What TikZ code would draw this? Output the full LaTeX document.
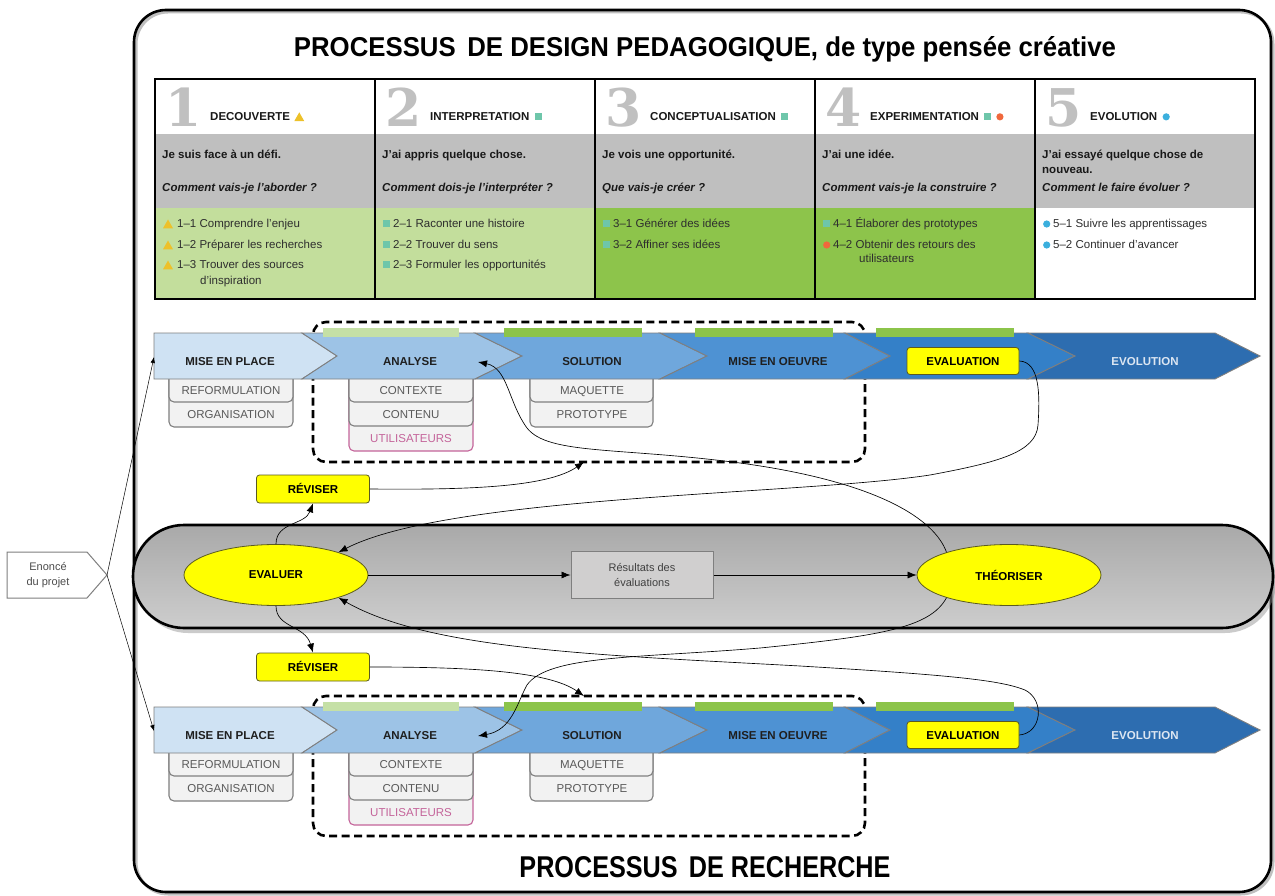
\documentclass[tikz,border=0pt]{standalone}
\usepackage{fontspec}
\usepackage{graphicx}
\setmainfont{Liberation Sans}
\newfontfamily\digitfont{DejaVu Serif}
\usetikzlibrary{arrows.meta,shapes.geometric}

\definecolor{chA}{HTML}{CFE2F3}
\definecolor{chB}{HTML}{9DC3E6}
\definecolor{chC}{HTML}{6FA7DC}
\definecolor{chD}{HTML}{4E92D3}
\definecolor{chE}{HTML}{3480C8}
\definecolor{chF}{HTML}{2D6DB0}
\definecolor{chline}{HTML}{7F7F7F}
\definecolor{lgrn}{HTML}{C3DE9C}
\definecolor{grn}{HTML}{8DC44B}
\definecolor{bargrn}{HTML}{8CC44A}
\definecolor{barlgrn}{HTML}{C5E0A6}
\definecolor{tgray}{HTML}{BFBFBF}
\definecolor{numgray}{HTML}{C0C0C0}
\definecolor{symyel}{HTML}{EDC12A}
\definecolor{symteal}{HTML}{6EC6AA}
\definecolor{symred}{HTML}{F0683C}
\definecolor{symblue}{HTML}{3BAFDD}
\definecolor{subfill}{HTML}{F2F2F2}
\definecolor{subtext}{HTML}{595959}
\definecolor{pinkc}{HTML}{C4649A}
\definecolor{evotext}{HTML}{DCE6F2}
\definecolor{yel}{HTML}{FFFF00}
\definecolor{yelline}{HTML}{5A5A20}
\definecolor{resfill}{HTML}{D0CFCF}
\definecolor{pillTop}{HTML}{A9A9A9}
\definecolor{pillMid}{HTML}{D4D4D4}
\definecolor{pillBot}{HTML}{CDCDCD}

\tikzset{
 chev/.style={draw=chline, line width=0.9pt, line join=miter},
 chlab/.style={font=\fontsize{11.5}{13}\selectfont\bfseries, text=black!88, inner sep=0, text height=8.3pt, text depth=0pt},
 subbox/.style={fill=subfill, draw=chline, line width=1.1pt, rounded corners=5pt},
 sublab/.style={font=\fontsize{11.5}{13}\selectfont, text=subtext, inner sep=0, text height=8.3pt, text depth=0pt},
 dashbox/.style={draw=black, line width=2.6pt, dash pattern=on 8pt off 4.5pt, rounded corners=13pt},
 yelbox/.style={fill=yel, draw=yelline, line width=0.8pt, rounded corners=3pt, font=\fontsize{11.5}{13}\selectfont\bfseries, inner sep=0, text height=8.3pt, text depth=0pt},
 ell/.style={ellipse, draw=yelline, line width=0.8pt, fill=yel, minimum width=184pt, minimum height=61pt, inner sep=0, font=\fontsize{11.5}{13}\selectfont\bfseries},
 resbox/.style={draw=chline, fill=resfill, line width=1pt, minimum width=142pt, minimum height=47pt, align=center, font=\fontsize{11}{15}\selectfont, text=black!75, inner sep=0},
 hdr/.style={anchor=base west, font=\fontsize{11.5}{13}\selectfont\bfseries, text=black!90, inner sep=0, text height=8.3pt, text depth=0pt},
 bignum/.style={anchor=base west, font=\digitfont\fontsize{52}{52}\selectfont\bfseries, text=numgray, inner sep=0},
 qtxt/.style={anchor=base west, font=\fontsize{11.5}{13}\selectfont\bfseries, text=black!90, inner sep=0},
 qit/.style={anchor=base west, font=\fontsize{11.5}{13}\selectfont\bfseries\itshape, text=black!90, inner sep=0},
 itm/.style={anchor=base west, font=\fontsize{11.5}{13}\selectfont, text=black!82, inner sep=0},
 conn/.style={line width=0.65pt, -{Latex[length=9pt,width=7pt]}},
 enarr/.style={line width=0.5pt, -{Latex[length=6pt,width=4.5pt]}},
}

\newcommand\stri[1]{\fill[symyel, shift={(#1)}] (0,-4.3) -- (10,-4.3) -- (5,4.5) -- cycle;}
\newcommand\ssq[1]{\fill[symteal, shift={(#1)}] (0,-3.5) rectangle (7,3.5);}
\newcommand\sdot[2]{\fill[#2, shift={(#1)}] (3.7,0) circle (3.6);}

\newcommand\procrow[2]{%
\begin{scope}[yshift=#1]
\draw[dashbox] (313,-322) rectangle (865,-462);
\coordinate (#2dbtop) at (584,-322);
\coordinate (#2dbbot) at (584,-462);
\filldraw[subbox] (169,-370) rectangle (293,-427);
\filldraw[subbox] (169,-370) rectangle (293,-402);
\filldraw[subbox, draw=pinkc] (349,-370) rectangle (473,-451);
\filldraw[subbox] (349,-370) rectangle (473,-426);
\filldraw[subbox] (349,-370) rectangle (473,-402);
\filldraw[subbox] (530,-370) rectangle (653,-427);
\filldraw[subbox] (530,-370) rectangle (653,-402);
\filldraw[chev, fill=chA] (154,-333) -- (302,-333) -- (337,-356) -- (302,-379) -- (154,-379) -- cycle;
\filldraw[chev, fill=chB] (302,-333) -- (475,-333) -- (522,-356) -- (475,-379) -- (302,-379) -- (337,-356) -- cycle;
\filldraw[chev, fill=chC] (475,-333) -- (660,-333) -- (707,-356) -- (660,-379) -- (475,-379) -- (522,-356) -- cycle;
\filldraw[chev, fill=chD] (660,-333) -- (845,-333) -- (890,-356) -- (845,-379) -- (660,-379) -- (707,-356) -- cycle;
\filldraw[chev, fill=chE] (845,-333) -- (1028,-333) -- (1075,-356) -- (1028,-379) -- (845,-379) -- (890,-356) -- cycle;
\filldraw[chev, fill=chF] (1028,-333) -- (1215,-333) -- (1260,-356) -- (1215,-379) -- (1028,-379) -- (1075,-356) -- cycle;
\fill[barlgrn] (323,-328) rectangle (459,-337);
\fill[bargrn] (504,-328) rectangle (642,-337);
\fill[bargrn] (695,-328) rectangle (833,-337);
\fill[bargrn] (876,-328) rectangle (1014,-337);
\node[chlab] (#2mep) at (230,-361) {MISE EN PLACE};
\node[chlab] (#2ana) at (410,-361) {ANALYSE};
\node[chlab] (#2sol) at (592,-361) {SOLUTION};
\node[chlab] (#2meo) at (778,-361) {MISE EN OEUVRE};
\node[yelbox, minimum width=112pt, minimum height=27pt] (#2eval) at (963,-361) {EVALUATION};
\node[chlab, text=evotext] (#2evo) at (1145,-361) {EVOLUTION};
\coordinate (#2mepL) at (154,-357);
\coordinate (#2anaR) at (478,-362);
\node[sublab] (#2ref) at (231,-390) {REFORMULATION};
\node[sublab] (#2org) at (231,-414) {ORGANISATION};
\node[sublab] (#2ctx) at (411,-390) {CONTEXTE};
\node[sublab] (#2cnt) at (411,-414) {CONTENU};
\node[sublab, text=pinkc] (#2usr) at (411,-438) {UTILISATEURS};
\node[sublab] (#2maq) at (592,-390) {MAQUETTE};
\node[sublab] (#2pro) at (592,-414) {PROTOTYPE};
\end{scope}}

\begin{document}
\begin{tikzpicture}[x=1pt,y=1pt]
\useasboundingbox (0,0) rectangle (1275,-896);
\fill[white] (0,0) rectangle (1275,-896);

% outer frame
\draw[black!25, line width=3pt, rounded corners=32pt] (136,-12) rectangle (1273,-894);
\draw[line width=2.6pt, rounded corners=32pt] (134,-10) rectangle (1271,-892);

% titles
\node[anchor=base, inner sep=0] (title) at (705,-57) {\resizebox{822pt}{20pt}{\bfseries PROCESSUS\hspace{0.45em}DE DESIGN PEDAGOGIQUE, de type pensée créative}};
\node[anchor=base, inner sep=0] (title2) at (705,-877) {\resizebox{371pt}{21pt}{\bfseries PROCESSUS\hspace{0.45em}DE RECHERCHE}};

% table backgrounds
\fill[white] (155,-79) rectangle (1255,-134);
\fill[tgray] (155,-134) rectangle (1255,-208);
\fill[lgrn] (155,-208) rectangle (595,-299);
\fill[grn] (595,-208) rectangle (1035,-299);
\fill[white] (1035,-208) rectangle (1255,-299);
\foreach \xx in {375,595,815,1035} \draw[line width=1.6pt] (\xx,-79) -- (\xx,-299);
\draw[line width=2pt] (155,-79) rectangle (1255,-299);

% column 1
\node[bignum] (n1) at (165,-127) {1};
\node[hdr] (h1) at (210,-121) {DECOUVERTE};
\coordinate (h1s) at ([xshift=4pt]h1.east);
\stri{h1s}
\node[qtxt] (q1) at (162,-159) {Je suis face à un défi.};
\node[qit] (i1) at (162,-192) {Comment vais-je l’aborder ?};
\stri{163,-224} \node[itm] (a11) at (177,-228) {1–1 Comprendre l'enjeu};
\stri{163,-245} \node[itm] (a12) at (177,-249) {1–2 Préparer les recherches};
\stri{163,-265} \node[itm] (a13) at (177,-269) {1–3 Trouver des sources};
\node[itm] (a13b) at (200,-284) {d'inspiration};

% column 2
\node[bignum] (n2) at (385,-127) {2};
\node[hdr] (h2) at (430,-121) {INTERPRETATION};
\coordinate (h2s) at ([xshift=5pt]h2.east);
\ssq{h2s}
\node[qtxt] (q2) at (382,-159) {J’ai appris quelque chose.};
\node[qit] (i2) at (382,-192) {Comment dois-je l’interpréter ?};
\ssq{383,-224} \node[itm] (a21) at (393,-228) {2–1 Raconter une histoire};
\ssq{383,-245} \node[itm] (a22) at (393,-249) {2–2 Trouver du sens};
\ssq{383,-265} \node[itm] (a23) at (393,-269) {2–3 Formuler les opportunités};

% column 3
\node[bignum] (n3) at (605,-127) {3};
\node[hdr] (h3) at (650,-121) {CONCEPTUALISATION};
\coordinate (h3s) at ([xshift=5pt]h3.east);
\ssq{h3s}
\node[qtxt] (q3) at (602,-159) {Je vois une opportunité.};
\node[qit] (i3) at (602,-192) {Que vais-je créer ?};
\ssq{603,-224} \node[itm] (a31) at (613,-228) {3–1 Générer des idées};
\ssq{603,-245} \node[itm] (a32) at (613,-249) {3–2 Affiner ses idées};

% column 4
\node[bignum] (n4) at (825,-127) {4};
\node[hdr] (h4) at (870,-121) {EXPERIMENTATION};
\coordinate (h4s) at ([xshift=5pt]h4.east);
\coordinate (h4c) at ([xshift=17pt]h4.east);
\ssq{h4s}
\sdot{h4c}{symred}
\node[qtxt] (q4) at (822,-159) {J’ai une idée.};
\node[qit] (i4) at (822,-192) {Comment vais-je la construire ?};
\ssq{823,-224} \node[itm] (a41) at (833,-228) {4–1 Élaborer des prototypes};
\sdot{823,-245}{symred} \node[itm] (a42) at (833,-249) {4–2 Obtenir des retours des};
\node[itm] (a42b) at (859,-263) {utilisateurs};

% column 5
\node[bignum] (n5) at (1045,-127) {5};
\node[hdr] (h5) at (1090,-121) {EVOLUTION};
\coordinate (h5s) at ([xshift=5pt]h5.east);
\sdot{h5s}{symblue}
\node[qtxt] (q5) at (1042,-159) {J’ai essayé quelque chose de};
\node[qtxt] (q5b) at (1042,-174) {nouveau.};
\node[qit] (i5) at (1042,-192) {Comment le faire évoluer ?};
\sdot{1043,-224}{symblue} \node[itm] (a51) at (1053,-228) {5–1 Suivre les apprentissages};
\sdot{1043,-245}{symblue} \node[itm] (a52) at (1053,-249) {5–2 Continuer d'avancer};

% process rows
\procrow{0pt}{T}
\procrow{-374pt}{B}

% middle band
\fill[black!45, opacity=0.45, rounded corners=51pt] (137,-530) rectangle (1276,-633);
\draw[line width=2.6pt, rounded corners=51pt, top color=pillTop, middle color=pillMid, bottom color=pillBot] (133,-525) rectangle (1273,-628);
\node[ell] (evaluer) at (276,-575) {EVALUER};
\node[ell] (theo) at (1009,-575) {THÉORISER};
\node[resbox] (res) at (642,-575) {Résultats des\\évaluations};
\draw[conn] (evaluer) -- (res);
\draw[conn] (res) -- (theo);

% reviser boxes
\node[yelbox, minimum width=113pt, minimum height=28pt] (revT) at (313,-489) {RÉVISER};
\node[yelbox, minimum width=113pt, minimum height=28pt] (revB) at (313,-667) {RÉVISER};

% enonce
\filldraw[fill=white, draw=chline, line width=1pt] (7,-552) -- (87,-552) -- (107,-575) -- (87,-598) -- (7,-598) -- cycle;
\node[font=\fontsize{11}{15}\selectfont, text=black!70, align=center, inner sep=0] (enonce) at (48,-575) {Enoncé\\du projet};
\coordinate (entip) at (107,-575);
\draw[enarr] (entip) -- (TmepL);
\draw[enarr] (entip) -- (BmepL);

% connectors
\draw[conn] (evaluer.north) .. controls (276,-522) and (305,-525) .. (revT.south);
\draw[conn] (evaluer.south) .. controls (276,-628) and (305,-625) .. (revB.north);
\draw[conn] (revT.east) .. controls (470,-490) and (548,-487) .. (Tdbbot);
\draw[conn] (revB.east) .. controls (470,-667) and (548,-671) .. (Bdbtop);
\draw[conn] (theo.160) .. controls (935,-520) and (880,-482) .. (740,-463)
  .. controls (620,-447) and (548,-455) .. (527,-428)
  .. controls (508,-402) and (508,-368) .. (TanaR);
\draw[conn] (theo.200) .. controls (930,-628) and (880,-636) .. (760,-648)
  .. controls (640,-658) and (548,-655) .. (527,-685)
  .. controls (517,-703) and (512,-730) .. (BanaR);
\draw[conn] (Teval.east) .. controls (1040,-362) and (1040,-395) .. (1038,-425)
  .. controls (1036,-452) and (1000,-462) .. (930,-475)
  .. controls (800,-495) and (450,-495) .. (evaluer.20);
\draw[conn] (Beval.east) .. controls (1042,-733) and (1045,-700) .. (1025,-690)
  .. controls (1000,-680) and (950,-675) .. (800,-666)
  .. controls (600,-655) and (430,-650) .. (evaluer.-20);
\end{tikzpicture}
\end{document}
